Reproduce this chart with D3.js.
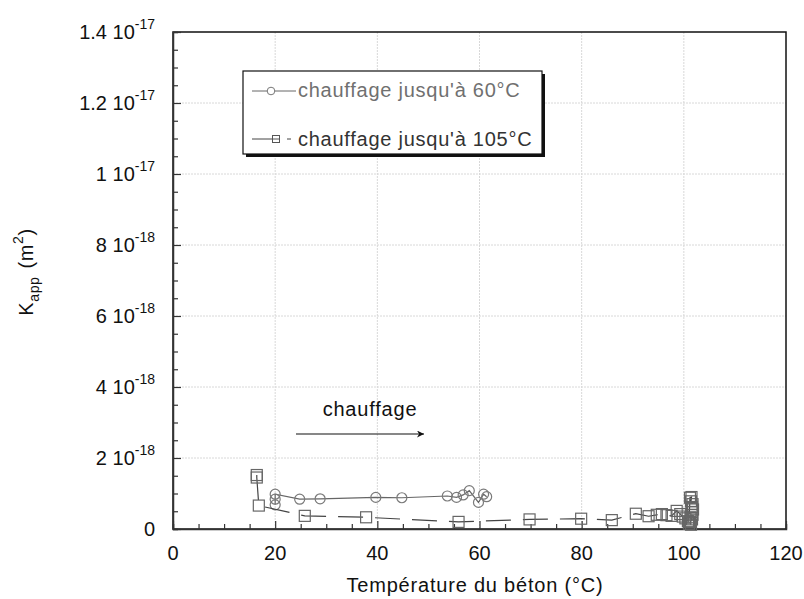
<!DOCTYPE html>
<html><head><meta charset="utf-8">
<script src="https://cdn.jsdelivr.net/npm/d3@7"></script>
<style>body{margin:0;background:#fff}svg{display:block;font-family:"Liberation Sans",Arial,sans-serif}</style>
</head><body><svg id="c" width="804" height="599"></svg>
<script>
// ---- data ----
const temp60 = [20, 20, 20, 24.8, 28.8, 39.7, 44.8, 53.7, 55.5, 56.8, 58.0, 59.8, 60.8, 61.4];
const k60 = [0.68e-18, 0.84e-18, 0.98e-18, 0.84e-18, 0.85e-18, 0.89e-18, 0.88e-18, 0.93e-18, 0.89e-18, 0.96e-18, 1.08e-18, 0.75e-18, 0.98e-18, 0.91e-18];
const temp105 = [16.4, 16.4, 16.8, 25.8, 37.8, 55.9, 69.8, 79.9, 85.9, 90.6, 93.1, 94.7, 95.7, 96.6, 97.6, 98.6, 99.3, 99.8, 100.3, 100.8, 101.0, 101.2, 101.5, 101.4, 101.7, 101.6, 101.8, 101.5, 101.7, 101.3, 101.6, 101.2, 101.4];
const k105 = [1.52e-18, 1.45e-18, 0.66e-18, 0.37e-18, 0.33e-18, 0.20e-18, 0.27e-18, 0.29e-18, 0.25e-18, 0.43e-18, 0.36e-18, 0.40e-18, 0.42e-18, 0.39e-18, 0.37e-18, 0.51e-18, 0.42e-18, 0.35e-18, 0.30e-18, 0.22e-18, 0.15e-18, 0.88e-18, 0.90e-18, 0.78e-18, 0.70e-18, 0.62e-18, 0.55e-18, 0.48e-18, 0.40e-18, 0.33e-18, 0.27e-18, 0.20e-18, 0.12e-18];
const xTicks = [0, 20, 40, 60, 80, 100, 120];
const yTickMant = ["0", "2", "4", "6", "8", "1", "1.2", "1.4"];
const yTickExp = ["", "-18", "-18", "-18", "-18", "-17", "-17", "-17"];
const yTicks = [0, 2e-18, 4e-18, 6e-18, 8e-18, 1e-17, 1.2e-17, 1.4e-17];
const legendLabels = ["chauffage jusqu'à 60°C", "chauffage jusqu'à 105°C"];

// ---- layout ----
const L = 173, R = 786, T = 32, B = 529;
const svg = d3.select("#c");
const x = d3.scaleLinear().domain([0, 120]).range([L, R]);
const y = d3.scaleLinear().domain([0, 1.4e-17]).range([B, T]);

// grid
const g = svg.append("g");
g.selectAll(".gx").data(xTicks.slice(1, -1)).join("line")
  .attr("x1", d => x(d)).attr("x2", d => x(d)).attr("y1", T).attr("y2", B)
  .attr("stroke", "#d8d8d8").attr("stroke-dasharray", "2,1");
g.selectAll(".gy").data(yTicks.slice(1, -1)).join("line")
  .attr("y1", d => y(d)).attr("y2", d => y(d)).attr("x1", L).attr("x2", R)
  .attr("stroke", "#d8d8d8").attr("stroke-dasharray", "2,1");

// frame
svg.append("rect").attr("x", L).attr("y", T).attr("width", R - L).attr("height", B - T)
  .attr("fill", "none").attr("stroke", "#111").attr("stroke-width", 1.5);

// axes with inward ticks
const xAx = svg.append("g").attr("transform", `translate(0,${B})`)
  .call(d3.axisTop(x).tickValues(d3.range(0, 121, 5)).tickSize(5).tickFormat(""));
xAx.selectAll(".tick line").attr("stroke", "#333").attr("stroke-width", 1.2)
  .attr("y2", d => d % 20 === 0 ? -8 : -5);
xAx.select(".domain").attr("stroke", "#333").attr("stroke-width", 1.5);
const yAx = svg.append("g").attr("transform", `translate(${L},0)`)
  .call(d3.axisRight(y).tickValues(d3.range(0, 29).map(i => i * 5e-19)).tickSize(5).tickFormat(""));
yAx.selectAll(".tick line").attr("stroke", "#333").attr("stroke-width", 1.2)
  .attr("x2", (d, i) => i % 4 === 0 ? 8 : 5);
yAx.select(".domain").attr("stroke", "#333").attr("stroke-width", 1.5);

// tick labels
svg.selectAll(".xl").data(xTicks).join("text")
  .attr("x", d => x(d)).attr("y", 560).attr("text-anchor", "middle")
  .attr("font-size", 20).attr("fill", "#111").text(d => d);
const yl = svg.selectAll(".yl").data(yTicks).join("text")
  .attr("x", 155).attr("y", d => y(d) + 7).attr("text-anchor", "end")
  .attr("font-size", 20).attr("fill", "#111");
yl.each(function (d, i) {
  const t = d3.select(this);
  if (i === 0) { t.text("0"); return; }
  t.append("tspan").text(yTickMant[i] + " 10");
  t.append("tspan").attr("dy", -10).attr("font-size", 14).text(yTickExp[i]);
});

// axis titles
svg.append("text").attr("x", 475).attr("y", 592).attr("text-anchor", "middle")
  .attr("font-size", 20).attr("letter-spacing", 0.8).attr("fill", "#111").text("Température du béton (°C)");
const yt = svg.append("text").attr("transform", "translate(33,272) rotate(-90)")
  .attr("text-anchor", "middle").attr("font-size", 20).attr("fill", "#111").attr("letter-spacing", 0.6);
yt.append("tspan").text("K");
yt.append("tspan").attr("dy", 6).attr("font-size", 14).text("app");
yt.append("tspan").attr("dy", -6).attr("dx", 8).text("(m");
yt.append("tspan").attr("dy", -10).attr("font-size", 14).text("2");
yt.append("tspan").attr("dy", 10).text(")");

// series
const pts60 = temp60.map((t, i) => [t, k60[i]]);
const pts105 = temp105.map((t, i) => [t, k105[i]]);
const line = d3.line().x(d => x(d[0])).y(d => y(d[1]));
svg.append("path").attr("d", line(pts60)).attr("fill", "none").attr("stroke", "#666").attr("stroke-width", 1.2);
svg.selectAll(".c60").data(pts60).join("circle")
  .attr("cx", d => x(d[0])).attr("cy", d => y(d[1])).attr("r", 5)
  .attr("fill", "none").attr("stroke", "#7a7a7a").attr("stroke-width", 1.2);

svg.append("path").attr("d", line(pts105)).attr("fill", "none").attr("stroke", "#444")
  .attr("stroke-width", 1.2).attr("stroke-dasharray", "25,12");
svg.selectAll(".s105").data(pts105).join("rect")
  .attr("x", d => x(d[0]) - 5.5).attr("y", d => y(d[1]) - 5.5).attr("width", 11).attr("height", 11)
  .attr("fill", "none").attr("stroke", "#666").attr("stroke-width", 1.2);

// annotation
svg.append("defs").append("marker").attr("id", "ah").attr("viewBox", "0 0 10 10")
  .attr("refX", 10).attr("refY", 5).attr("markerWidth", 10).attr("markerHeight", 7)
  .attr("markerUnits", "userSpaceOnUse").attr("orient", "auto")
  .append("path").attr("d", "M0,0 L10,5 L0,10 L3,5 Z").attr("fill", "#111");
svg.append("text").attr("x", 370).attr("y", 416).attr("text-anchor", "middle")
  .attr("font-size", 20).attr("letter-spacing", 0.8).attr("fill", "#111").text("chauffage");
svg.append("line").attr("x1", 296).attr("x2", 424).attr("y1", 434).attr("y2", 434)
  .attr("stroke", "#111").attr("stroke-width", 1.2).attr("marker-end", "url(#ah)");

// legend
const lg = svg.append("g");
lg.append("rect").attr("x", 246).attr("y", 74).attr("width", 299).attr("height", 83).attr("fill", "#111");
lg.append("rect").attr("x", 243).attr("y", 71).attr("width", 299).attr("height", 83)
  .attr("fill", "#fff").attr("stroke", "#111").attr("stroke-width", 1.2);
lg.append("line").attr("x1", 252).attr("x2", 296).attr("y1", 91).attr("y2", 91).attr("stroke", "#666");
lg.append("circle").attr("cx", 271).attr("cy", 91).attr("r", 3.8).attr("fill", "#fff").attr("stroke", "#777");
lg.append("line").attr("x1", 252).attr("x2", 273).attr("y1", 139).attr("y2", 139).attr("stroke", "#444");
lg.append("line").attr("x1", 287).attr("x2", 291).attr("y1", 139).attr("y2", 139).attr("stroke", "#444");
lg.append("rect").attr("x", 272.5).attr("y", 135.5).attr("width", 7).attr("height", 7).attr("fill", "none").attr("stroke", "#555");
lg.append("line").attr("x1", 272.5).attr("x2", 279.5).attr("y1", 139).attr("y2", 139).attr("stroke", "#555");
lg.selectAll(".lt").data(legendLabels).join("text")
  .attr("x", 298).attr("y", (d, i) => 97 + i * 49).attr("font-size", 20).attr("letter-spacing", 0.75)
  .attr("fill", (d, i) => i === 0 ? "#707070" : "#333").text(d => d);
</script></body></html>
